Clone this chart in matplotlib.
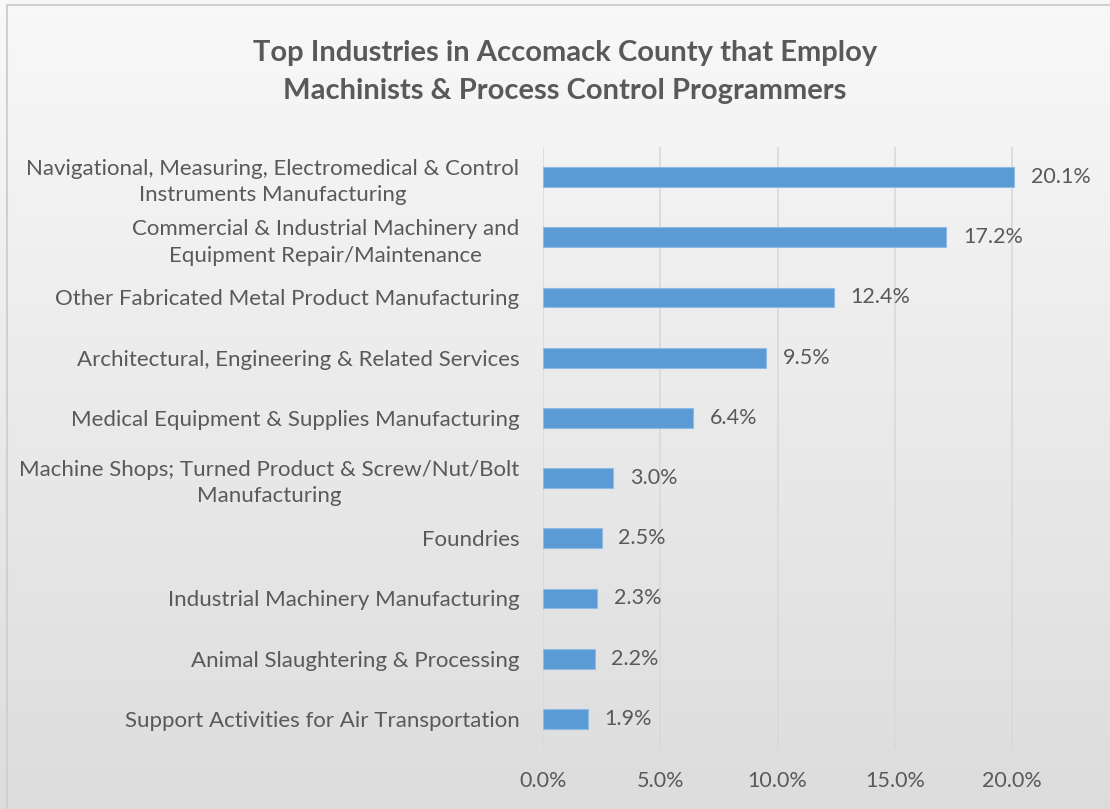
import matplotlib
matplotlib.use("Agg")
import matplotlib.pyplot as plt
import numpy as np
from matplotlib.ticker import FuncFormatter

industries = [
    "Navigational, Measuring, Electromedical & Control\nInstruments Manufacturing",
    "Commercial & Industrial Machinery and\nEquipment Repair/Maintenance",
    "Other Fabricated Metal Product Manufacturing",
    "Architectural, Engineering & Related Services",
    "Medical Equipment & Supplies Manufacturing",
    "Machine Shops; Turned Product & Screw/Nut/Bolt\nManufacturing",
    "Foundries",
    "Industrial Machinery Manufacturing",
    "Animal Slaughtering & Processing",
    "Support Activities for Air Transportation",
]
shares = [20.1, 17.2, 12.4, 9.5, 6.4, 3.0, 2.5, 2.3, 2.2, 1.9]
x_ticks = [0, 5, 10, 15, 20]

TEXT = "#595959"
BAR = "#5b9bd5"
GRID = "#d9d9d9"

plt.rcParams["font.family"] = ["Lato", "DejaVu Sans"]

fig = plt.figure(figsize=(11.1, 8.09), dpi=100)

# gradient background
bg = fig.add_axes([0, 0, 1, 1], zorder=-10)
grad = np.linspace(0.975, 0.865, 256)[:, None]
bg.imshow(np.dstack([grad, grad, grad]), aspect="auto", extent=[0, 1, 0, 1])
bg.plot([7 / 1110, 7 / 1110], [0, 1 - 5 / 809], color="#d0d0d0", lw=1.5)
bg.plot([7 / 1110, 1], [1 - 5 / 809, 1 - 5 / 809], color="#d0d0d0", lw=1.5)
bg.set_xlim(0, 1)
bg.set_ylim(0, 1)
bg.axis("off")

ax = fig.add_axes([543 / 1110, 1 - 749 / 809, 1 - 543 / 1110, (749 - 147) / 809])
ax.patch.set_alpha(0)

y = np.arange(len(industries))
ax.barh(y, shares, height=0.33, color=BAR, edgecolor="#8fbbe3", linewidth=0.8, zorder=3)
for yi, v in zip(y, shares):
    ax.annotate(f"{v:.1f}%", (v, yi), xytext=(12, 0), textcoords="offset points",
                va="center", ha="left", fontsize=15.5, color=TEXT)

ax.set_ylim(len(industries) - 0.5, -0.5)
ax.set_xlim(0, (1110 - 543) / 23.45)
ax.set_xticks(x_ticks)
ax.xaxis.set_major_formatter(FuncFormatter(lambda v, p: f"{v:.1f}%"))
ax.set_yticks(y)
ax.set_yticklabels(industries, ma="center")
for lbl in ax.get_yticklabels():
    lbl.set_linespacing(1.4)
ax.tick_params(axis="y", length=0, labelsize=16, labelcolor=TEXT, pad=17)
ax.tick_params(axis="x", length=0, labelsize=15.5, labelcolor=TEXT, pad=16)
ax.grid(axis="x", color=GRID, lw=1.2, zorder=0)
for s in ax.spines.values():
    s.set_visible(False)

fig.text(565 / 1110, 1 - 72 / 809,
         "Top Industries in Accomack County that Employ\nMachinists & Process Control Programmers",
         ha="center", va="center", fontsize=21, fontweight="bold", color=TEXT,
         linespacing=1.55)

fig.savefig("out.png", dpi=100)
